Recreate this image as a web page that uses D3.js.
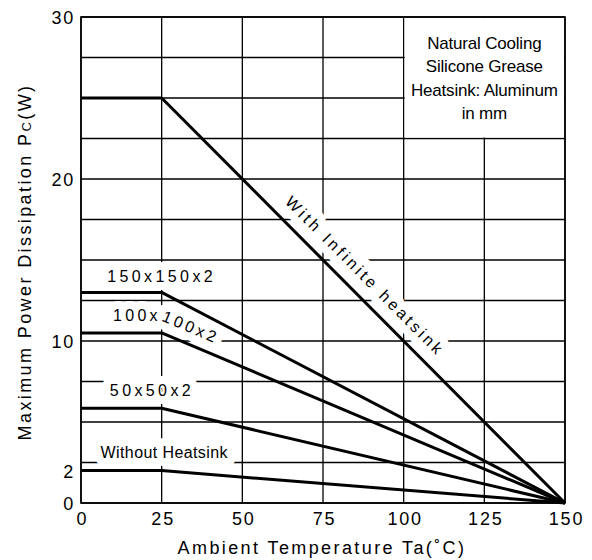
<!DOCTYPE html>
<html>
<head>
<meta charset="utf-8">
<script src="https://cdn.jsdelivr.net/npm/d3@7"></script>
<style>
    body { margin: 0; background: #fff; }
    svg { display: block; font-family: "Liberation Sans", Arial, sans-serif; }
</style>
</head>
<body>
<div id="chart"></div>
<script>
"use strict"

// ambient temperature breakpoints of the derating curves (deg C)
let temps = [0, 25, 150];

// maximum power dissipation (W) at each breakpoint, per heatsink
let infiniteSink = [25, 25, 0];
let sink150 = [13, 13, 0];
let sink100 = [10.5, 10.5, 0];
let sink50 = [5.85, 5.85, 0];
let noSink = [2, 2, 0];

let seriesNames = ["With Infinite heatsink", "150x150x2", "100x100x2", "50x50x2", "Without Heatsink"];

let xTicks = [0, 25, 50, 75, 100, 125, 150];
let yTicks = [0, 2, 10, 20, 30];
let xGrid = [0, 25, 50, 75, 100, 125, 150];
let yGrid = [0, 2.5, 5, 7.5, 10, 12.5, 15, 17.5, 20, 22.5, 25, 27.5, 30];

let noteLines = ["Natural Cooling", "Silicone Grease", "Heatsink: Aluminum", "in mm"];

let DeratingView = function(targetID) {

    let self = {
        targetElement: null,
        targetSvg: null,
        haloLayer: null,
        textLayer: null,
        x: null,
        y: null
    };

    init();

    function init() {
        self.targetElement = d3.select(targetID);

        self.targetSvg = self.targetElement.append("svg")
            .attr("width", 592)
            .attr("height", 560);

        self.x = d3.scaleLinear()
            .domain([0, 150])
            .range([81, 565]);

        self.y = d3.scaleLinear()
            .domain([0, 30])
            .range([503, 17]);

        drawGrid();
        drawNote();
        self.haloLayer = self.targetSvg.append("g").attr("class", "halo");
        self.textLayer = self.targetSvg.append("g").attr("class", "labels");
        drawLabels();
        drawFrame();
        drawCurves();
        drawAxes();
    }

    function seriesData() {
        let values = [infiniteSink, sink150, sink100, sink50, noSink];
        return values.map(function(v, i) {
            return {
                name: seriesNames[i],
                points: temps.map(function(t, j) {
                    return { t: t, p: v[j] };
                })
            };
        });
    }

    function drawGrid() {
        let g = self.targetSvg.append("g").attr("class", "grid");

        g.selectAll(".vgrid")
            .data(xGrid)
            .enter().append("line")
            .attr("x1", d => self.x(d))
            .attr("x2", d => self.x(d))
            .attr("y1", self.y(30))
            .attr("y2", self.y(0))
            .style("stroke", "#000")
            .style("stroke-width", "1.3px");

        g.selectAll(".hgrid")
            .data(yGrid)
            .enter().append("line")
            .attr("x1", self.x(0))
            .attr("x2", self.x(150))
            .attr("y1", d => self.y(d))
            .attr("y2", d => self.y(d))
            .style("stroke", "#000")
            .style("stroke-width", "1.3px");
    }

    /* white note box in the top right cell block */
    function drawNote() {
        let x0 = self.x(100), x1 = self.x(150);
        let y0 = self.y(30), y1 = self.y(22.5);

        self.targetSvg.append("rect")
            .attr("x", x0 + 1)
            .attr("y", y0 + 1)
            .attr("width", x1 - x0 - 2)
            .attr("height", y1 - y0 - 2)
            .style("fill", "#fff");

        self.targetSvg.append("g")
            .selectAll("text")
            .data(noteLines)
            .enter().append("text")
            .attr("x", self.x(125))
            .attr("y", (d, i) => 49 + i * 23.3)
            .attr("text-anchor", "middle")
            .style("font-size", "17px")
            .style("letter-spacing", "-0.2px")
            .text(d => d);
    }

    /* add a label twice: a white halo copy that cuts the grid, then the black text */
    function addLabel(build) {
        let halo = build(self.haloLayer.append("text"));
        halo.style("fill", "#fff")
            .style("stroke", "#fff")
            .style("stroke-width", "16px")
            .style("stroke-linejoin", "round");
        build(self.textLayer.append("text")).style("fill", "#000");
    }

    function drawLabels() {
        let data = seriesData();

        // infinite heatsink: rotated along the sloped segment
        let inf = data[0];
        let along = d3.scaleLinear().domain(temps).range(infiniteSink);
        let px = self.x(84), py = self.y(along(84));
        let ang = Math.atan2(self.y(0) - self.y(25), self.x(150) - self.x(25)) * 180 / Math.PI;
        addLabel(function(t) {
            t.attr("transform", "translate(" + px + "," + py + ") rotate(" + ang + ")")
                .attr("y", -13)
                .attr("text-anchor", "middle")
                .style("font-size", "16px")
                .style("letter-spacing", "3.2px")
                .text(inf.name);
            return t;
        });

        // flat labels above the plateau
        let flat = [
            { s: data[1], at: 25, dy: -10, ls: 3.4 },
            { s: data[3], at: 22, dy: -12, ls: 3.4 },
            { s: data[4], at: 25.8, dy: -12.5, ls: 0.4 }
        ];
        flat.forEach(function(f) {
            addLabel(function(t) {
                t.attr("x", self.x(f.at))
                    .attr("y", self.y(f.s.points[0].p) + f.dy)
                    .attr("text-anchor", "middle")
                    .style("font-size", "16px")
                    .style("letter-spacing", f.ls + "px")
                    .text(f.s.name);
                return t;
            });
        });

        // 100x100x2 follows the bend of its curve
        let line = d3.line()
            .x(d => self.x(d.t))
            .y(d => self.y(d.p) - 12);

        self.targetSvg.append("defs").append("path")
            .attr("id", "path100")
            .attr("d", line(data[2].points));

        addLabel(function(t) {
            t.style("font-size", "16px")
                .style("letter-spacing", "3.3px")
                .append("textPath")
                .attr("href", "#path100")
                .attr("startOffset", 32)
                .text(data[2].name);
            return t;
        });
    }

    function drawFrame() {
        self.targetSvg.append("rect")
            .attr("x", self.x(0))
            .attr("y", self.y(30))
            .attr("width", self.x(150) - self.x(0))
            .attr("height", self.y(0) - self.y(30))
            .style("fill", "none")
            .style("stroke", "#000")
            .style("stroke-width", "1.6px");
    }

    function drawCurves() {
        let lineFunc = d3.line()
            .x(d => self.x(d.t))
            .y(d => self.y(d.p));

        self.targetSvg.append("g")
            .selectAll("path")
            .data(seriesData())
            .enter().append("path")
            .attr("class", "curve")
            .attr("d", d => lineFunc(d.points))
            .style("fill", "none")
            .style("stroke", "#000")
            .style("stroke-width", "3px")
            .style("stroke-linejoin", "round");
    }

    function drawAxes() {
        let xAxis = d3.axisBottom(self.x)
            .tickValues(xTicks)
            .tickSize(0)
            .tickPadding(9);

        let gx = self.targetSvg.append("g")
            .attr("transform", "translate(1," + self.y(0) + ")")
            .call(xAxis);
        gx.select(".domain").remove();
        gx.selectAll("text")
            .style("font-size", "18px")
            .style("letter-spacing", "1.8px")
            .style("font-family", "'Liberation Sans', Arial, sans-serif")
            .style("fill", "#000");

        let yAxis = d3.axisLeft(self.y)
            .tickValues(yTicks)
            .tickSize(0)
            .tickPadding(6);

        let gy = self.targetSvg.append("g")
            .attr("transform", "translate(" + self.x(0) + ",1)")
            .call(yAxis);
        gy.select(".domain").remove();
        gy.selectAll("text")
            .style("font-size", "18px")
            .style("letter-spacing", "1.8px")
            .style("font-family", "'Liberation Sans', Arial, sans-serif")
            .style("fill", "#000");

        self.targetSvg.append("text")
            .attr("x", 322)
            .attr("y", 554)
            .attr("text-anchor", "middle")
            .style("font-size", "18px")
            .style("letter-spacing", "2.4px")
            .text("Ambient Temperature Ta(\u02DAC)");

        let yt = self.targetSvg.append("text")
            .attr("transform", "translate(31,262) rotate(-90)")
            .attr("text-anchor", "middle")
            .style("font-size", "18px")
            .style("letter-spacing", "2.4px");
        yt.append("tspan").text("Maximum Power Dissipation P");
        yt.append("tspan").style("font-size", "13px").text("C");
        yt.append("tspan").text("(W)");
    }

    return {};
}

DeratingView("#chart");
</script>
</body>
</html>
